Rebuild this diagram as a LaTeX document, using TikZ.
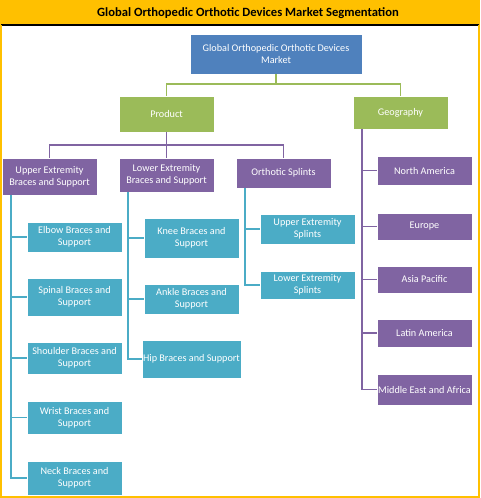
\documentclass[tikz,border=0pt]{standalone}
\usepackage{fontspec}
\setmainfont{Carlito}
\definecolor{cblue}{HTML}{4F81BD}
\definecolor{cgreen}{HTML}{9BBB59}
\definecolor{cpurple}{HTML}{8064A2}
\definecolor{cteal}{HTML}{4BACC6}
\definecolor{cyell}{HTML}{FFC000}
\begin{document}
\begin{tikzpicture}[x=1pt,y=-1pt,
  box/.style={draw=white, line width=0.4pt, text=white, align=center, inner sep=1pt,
    minimum width=95, font=\fontsize{10.2}{12.3}\selectfont},
  bl/.style={box, fill=cblue},
  gr/.style={box, fill=cgreen},
  pu/.style={box, fill=cpurple},
  te/.style={box, fill=cteal},
  lg/.style={draw=cgreen, line width=1.7pt},
  lp/.style={draw=cpurple, line width=1.7pt},
  lt/.style={draw=cteal, line width=1.7pt}]
\useasboundingbox (0,0) rectangle (480,498);
% frame and title
\fill[cyell] (0,0) rectangle (480,25);
\draw[black, line width=1.2pt] (1,25) -- (479,25);
\draw[cyell, line width=1.8pt] (1,25) -- (1,497) -- (479,497) -- (479,25);
\node[font=\bfseries\fontsize{12.6}{14}\selectfont, text=black] (title) at (248,13) {Global Orthopedic Orthotic Devices Market Segmentation};
% top
\node[bl, minimum width=172, minimum height=40] (root) at (276,54) {Global Orthopedic Orthotic Devices\\Market};
\node[gr, minimum height=36] (product) at (166.5,114) {Product};
\node[gr, minimum height=33] (geo) at (400.5,112.5) {Geography};
% product categories
\node[pu, minimum height=37] (upper) at (49.5,176.5) {Upper Extremity\\Braces and Support};
\node[pu, minimum height=34] (lower) at (166.5,175) {Lower Extremity\\Braces and Support};
\node[pu, minimum height=30] (splints) at (283.5,173) {Orthotic Splints};
% geography
\node[pu, minimum height=29] (na) at (424.5,170.5) {North America};
\node[pu, minimum height=27] (eu) at (424.5,226.5) {Europe};
\node[pu, minimum height=27] (ap) at (424.5,279.5) {Asia Pacific};
\node[pu, minimum height=28] (la) at (424.5,333) {Latin America};
\node[pu, minimum height=31] (mea) at (424.5,389.5) {Middle East and Africa};
% upper children
\node[te, minimum height=30] (elbow) at (74.5,237) {Elbow Braces and\\Support};
\node[te, minimum height=38] (spinal) at (74.5,297) {Spinal Braces and\\Support};
\node[te, minimum height=32] (shoulder) at (74.5,358) {Shoulder Braces and\\Support};
\node[te, minimum height=33] (wrist) at (74.5,417.5) {Wrist Braces and\\Support};
\node[te, minimum height=34] (neck) at (74.5,478) {Neck Braces and\\Support};
% lower children
\node[te, minimum height=40] (knee) at (191.5,238) {Knee Braces and\\Support};
\node[te, minimum height=30] (ankle) at (191.5,299) {Ankle Braces and\\Support};
\node[te, minimum height=38] (hip) at (191.5,359) {Hip Braces and Support};
% splint children
\node[te, minimum height=30] (us) at (307.5,229) {Upper Extremity\\Splints};
\node[te, minimum height=28] (ls) at (307.5,285) {Lower Extremity\\Splints};
% trunks
\coordinate (tu) at (11,0);
\coordinate (tl) at (128,0);
\coordinate (ts) at (245,0);
\coordinate (tg) at (362,0);
% connectors
\draw[lg] (root.south) -- ++(0,10) -| (product.north);
\draw[lg] (root.south) -- ++(0,10) -| (geo.north);
\draw[lp] (product.south) -- ++(0,13) -| (upper.north);
\draw[lp] (product.south) -- ++(0,13) -| (lower.north);
\draw[lp] (product.south) -- ++(0,13) -| (splints.north);
\draw[lp] (tg |- geo.south) |- (mea.west);
\foreach \n in {na,eu,ap,la} \draw[lp] (tg |- \n.west) -- (\n.west);
\draw[lt] (tu |- upper.south) |- (neck.west);
\foreach \n in {elbow,spinal,shoulder,wrist} \draw[lt] (tu |- \n.west) -- (\n.west);
\draw[lt] (tl |- lower.south) |- (hip.west);
\foreach \n in {knee,ankle} \draw[lt] (tl |- \n.west) -- (\n.west);
\draw[lt] (ts |- splints.south) |- (ls.west);
\draw[lt] (ts |- us.west) -- (us.west);
\end{tikzpicture}
\end{document}
